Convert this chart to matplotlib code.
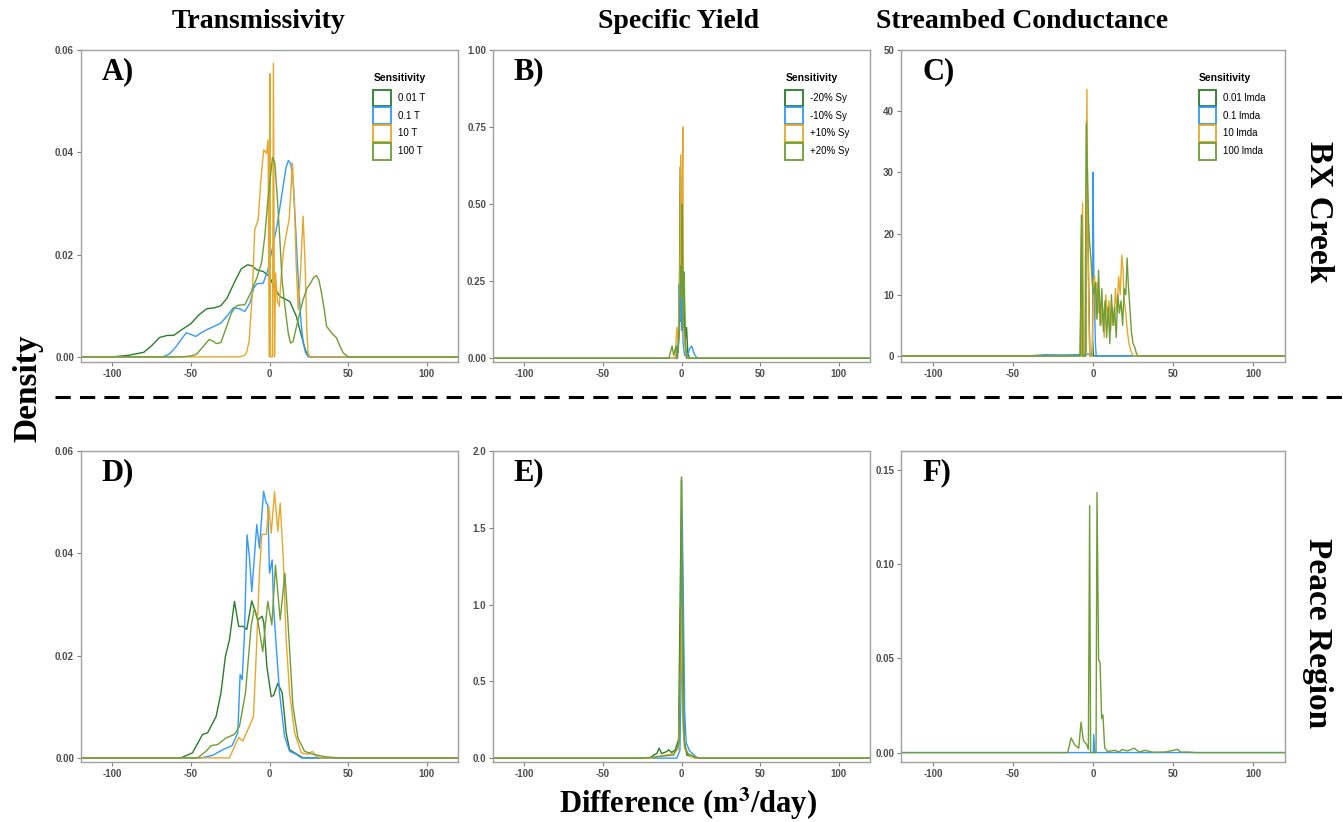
import matplotlib
matplotlib.use("Agg")
import matplotlib.pyplot as plt
from matplotlib.patches import Patch
from matplotlib.lines import Line2D

# colours of the four sensitivity runs
colors = ['#2a7d2a', '#3399ff', '#e6a82a', '#6e9e35']

col_titles = ['Transmissivity', 'Specific Yield', 'Streambed Conductance']
row_titles = ['BX Creek', 'Peace Region']
letters = ['A)', 'B)', 'C)', 'D)', 'E)', 'F)']
legend_labels = [
    ['0.01 T', '0.1 T', '10 T', '100 T'],
    ['-20% Sy', '-10% Sy', '+10% Sy', '+20% Sy'],
    ['0.01 lmda', '0.1 lmda', '10 lmda', '100 lmda'],
]

# ---- A) BX Creek, transmissivity ----
A1_x = [-120, -100, -90, -80, -75, -70, -65, -61, -55, -50, -45, -40, -35, -31, -27, -22, -18, -14, -11, -8, -4, 0, 3, 6.6, 10, 13, 17, 20, 23, 25.7, 120]
A1_y = [0, 0, 0.0003, 0.0009, 0.0022, 0.0038, 0.0042, 0.0042, 0.0055, 0.0065, 0.0082, 0.0094, 0.0096, 0.0100, 0.0115, 0.0148, 0.0172, 0.018, 0.0178, 0.017, 0.0167, 0.0157, 0.0136, 0.0118, 0.0113, 0.0108, 0.0080, 0.0045, 0.0012, 0, 0]
A2_x = [-120, -68, -64, -60, -56, -53, -50, -47, -43, -40, -35, -31, -27, -23, -19, -15.7, -12.5, -10, -8, -4, -1, 2, 5, 8, 10.5, 12, 13.5, 15, 16.5, 18.3, 20, 21.5, 23, 24.6, 120]
A2_y = [0, 0, 0.0005, 0.0018, 0.0035, 0.0047, 0.0044, 0.0040, 0.0048, 0.0053, 0.0060, 0.0066, 0.0080, 0.0096, 0.0094, 0.0089, 0.0105, 0.0135, 0.0143, 0.0144, 0.0170, 0.0215, 0.0260, 0.0320, 0.0370, 0.0384, 0.0378, 0.0346, 0.0260, 0.0151, 0.0070, 0.0027, 0.0008, 0, 0]
A3_x = [-120, -19, -16, -14.6, -13, -11, -9.4, -7.2, -5.8, -4.5, -3.6, -1.9, -0.9, -0.2, 0.2, 0.6, 1.9, 2.5, 3.2, 3.8, 5, 6.2, 7.6, 9, 10.8, 12.5, 13.5, 14.6, 16, 17, 18.3, 19.7, 21.4, 22.7, 23.8, 24.6, 25.7, 120]
A3_y = [0, 0, 0.0003, 0.0008, 0.003, 0.012, 0.0249, 0.0268, 0.0333, 0.038, 0.0405, 0.0398, 0.0424, 0, 0.0554, 0, 0, 0.0574, 0, 0.0164, 0.011, 0.0099, 0.0164, 0.021, 0.0242, 0.0268, 0.032, 0.0379, 0.0288, 0.018, 0.0092, 0.0164, 0.0275, 0.0177, 0.005, 0.0005, 0, 0]
A4_x = [-120, -55, -50, -46.5, -42, -38.4, -35.5, -33.8, -31, -29.5, -27, -24.2, -22, -20, -15.7, -12, -8, -5, -3, -1, 1.9, 3.4, 5, 6.6, 8, 9.8, 12, 13.4, 15, 18, 21.4, 24, 26.1, 28, 29.9, 31.5, 33.1, 35, 36.3, 39.5, 42.7, 45, 46.9, 50.1, 120]
A4_y = [0, 0, 0.0002, 0.0005, 0.0021, 0.0034, 0.003, 0.0026, 0.0028, 0.004, 0.0062, 0.0086, 0.0097, 0.0101, 0.0102, 0.0125, 0.0155, 0.0185, 0.0236, 0.0307, 0.039, 0.0379, 0.031, 0.0229, 0.015, 0.0099, 0.0045, 0.0027, 0.003, 0.007, 0.0112, 0.0135, 0.0144, 0.0155, 0.0159, 0.015, 0.0125, 0.009, 0.006, 0.0047, 0.0037, 0.002, 0.0008, 0, 0]

# ---- B) BX Creek, specific yield ----
B1_x = [-120, -4, -2.2, -1.5, -0.8, -0.3, 0.2, 0.8, 1.5, 2.2, 3.2, 4.0, 5, 120]
B1_y = [0, 0, 0.02, 0.08, 0.62, 0.25, 0.54, 0.12, 0.28, 0.05, 0.10, 0.02, 0, 0]
B2_x = [-120, -3, -2, -1.5, -1, -0.5, 0, 0.5, 1, 2, 3, 4, 5, 6.5, 8, 10, 120]
B2_y = [0, 0, 0.05, 0.24, 0.12, 0.2, 0.09, 0.2, 0.05, 0.01, 0.005, 0.01, 0.03, 0.04, 0.015, 0, 0]
B3_x = [-120, -4, -3, -2, -1, -0.5, 0, 0.5, 0.9, 1.2, 2, 3, 120]
B3_y = [0, 0, 0.1, 0.05, 0.3, 0.66, 0.2, 0.58, 0.75, 0.1, 0.05, 0, 0]
B4_x = [-120, -8, -6, -5, -3.5, -2.5, -1.5, -0.5, 0, 0.5, 1, 1.7, 2.5, 3.5, 120]
B4_y = [0, 0, 0.04, 0.01, 0.04, 0.0, 0.1, 0.3, 0.2, 0.5, 0.1, 0.28, 0.05, 0.0, 0]

# ---- C) BX Creek, streambed conductance ----
C1_x = [-120, -8, -7.2, -6.8, -5, -4.4, -4.0, -3.2, -2, -0.6, -0.2, 0.3, 1, 120]
C1_y = [0, 0, 23, 0, 0, 0, 38.5, 20, 0, 0, 2.3, 0, 0, 0]
C2_x = [-120, -40, -30, -20, -10, -3, -1, -0.3, 0, 0.5, 1, 1.5, 2, 120]
C2_y = [0, 0, 0.2, 0.15, 0.2, 0.3, 0.3, 0.5, 30, 14, 8, 2, 0, 0]
C3_x = [-120, -7.5, -6.5, -5.8, -4.5, -3.8, -3.2, -2.6, -2, -1.2, -0.5, 0.3, 1, 1.8, 2.5, 3.3, 4, 5, 6, 7, 8, 9, 10, 11, 12, 13, 14, 15, 16, 17, 18, 18.8, 19.5, 20.5, 21.5, 22.5, 23.5, 24.5, 25.5, 120]
C3_y = [0, 0, 25, 0, 0, 43.6, 20, 8, 0, 0, 0, 12, 13, 6, 12, 7, 10, 5, 8, 3, 10, 6, 9, 4, 8, 5, 11, 7, 13, 10, 16.5, 14, 9, 7, 4, 2, 1, 0.3, 0, 0]
C4_x = [-120, -8, -7, -6.5, -5, -4.2, -3.5, -2.8, -2, -1.3, -0.5, 0.5, 1.5, 2.5, 3.5, 4.5, 5.5, 6.5, 7.5, 8.5, 9.5, 10.5, 11.5, 12.5, 13.5, 14.5, 15.5, 16.5, 17.5, 18.5, 19.5, 20.5, 21.3, 22, 23, 24, 25, 26, 27, 28, 120]
C4_y = [0, 0, 22.8, 0, 0, 38, 30, 22, 18, 16, 12, 10, 12, 6, 14, 5, 11, 4, 9, 3, 8, 2, 10, 5, 8, 3, 10, 7, 9, 5, 11, 10, 16, 12, 8, 4, 2, 1.5, 0.5, 0, 0]

# ---- D) Peace Region, transmissivity ----
D1_x = [-120, -56.4, -49, -42.6, -39.4, -34, -30.9, -28.1, -25.5, -22.3, -19.6, -16.6, -14.5, -11.3, -7.4, -4.7, -3.6, -1.7, 1.1, 2.6, 5.3, 8.1, 10.6, 12.8, 17, 21.3, 120]
D1_y = [0, 0, 0.001, 0.0046, 0.0049, 0.0081, 0.0127, 0.0198, 0.0231, 0.0306, 0.0257, 0.0257, 0.0251, 0.0307, 0.027, 0.0277, 0.0264, 0.0179, 0.012, 0.0122, 0.0146, 0.0127, 0.0049, 0.0016, 0.0008, 0, 0]
D2_x = [-120, -43.6, -36.2, -29.8, -23.8, -20.2, -18.7, -17.4, -16, -14.3, -12.8, -11.3, -9.6, -8.1, -6.4, -3.8, -2.1, -1.1, 0, 1.7, 2.6, 4.3, 6.4, 9.6, 12.8, 17, 20.2, 120]
D2_y = [0, 0, 0.0005, 0.0016, 0.0024, 0.0049, 0.0163, 0.0153, 0.0238, 0.0436, 0.0394, 0.0325, 0.0394, 0.0456, 0.041, 0.0521, 0.0498, 0.0495, 0.0361, 0.0387, 0.0296, 0.0218, 0.0127, 0.0042, 0.0013, 0.0007, 0, 0]
D3_x = [-120, -25.5, -21.3, -19.6, -17, -12.8, -10.2, -8.5, -6.4, -4.9, -2.1, -0.4, 1.1, 3.2, 5.3, 6.8, 8.7, 10.6, 12.8, 16, 20.2, 24.5, 27.2, 29.8, 33, 120]
D3_y = [0, 0, 0.0029, 0.004, 0.0033, 0.0062, 0.0081, 0.0198, 0.0361, 0.0437, 0.0437, 0.0491, 0.0439, 0.0521, 0.0443, 0.0498, 0.0394, 0.0231, 0.0127, 0.0049, 0.001, 0.0007, 0.0013, 0.0003, 0, 0]
D4_x = [-120, -45.7, -40.4, -37.2, -33, -27.7, -22.3, -19.1, -15.3, -11.7, -9.6, -7.4, -4.3, -1.1, 1.5, 3.8, 6.8, 9.8, 12.3, 14.9, 18.1, 22.3, 27.7, 36.2, 44.7, 120]
D4_y = [0, 0, 0.0013, 0.0024, 0.0026, 0.0039, 0.0046, 0.0062, 0.0127, 0.0257, 0.0293, 0.0267, 0.0208, 0.0306, 0.026, 0.0377, 0.027, 0.0361, 0.0238, 0.0101, 0.0039, 0.0013, 0.0007, 0.0002, 0, 0]

# ---- E) Peace Region, specific yield ----
E1_x = [-120, -20, -17.9, -15.7, -14.3, -12.6, -9.4, -8.3, -6.2, -4, -1.9, -0.9, 0, 0.9, 1.7, 3.4, 5.5, 9.8, 120]
E1_y = [0, 0, 0.02, 0.03, 0.065, 0.03, 0.043, 0.054, 0.037, 0.054, 0.12, 0.99, 1.81, 0.99, 0.12, 0.02, 0.014, 0, 0]
E2_x = [-120, -3, -1, -0.2, 0.5, 1.2, 2, 3, 5, 8, 10, 120]
E2_y = [0, 0, 0.05, 0.5, 1.55, 1.0, 0.3, 0.1, 0.05, 0.02, 0, 0]
E3_x = [-120, -20, -15, -10, -5, -2, -0.5, 0, 0.5, 1, 2, 5, 8, 120]
E3_y = [0, 0, 0.01, 0.02, 0.03, 0.06, 0.6, 1.0, 0.55, 0.2, 0.06, 0.02, 0, 0]
E4_x = [-120, -25, -15, -5, -1.5, -0.5, 0, 0.5, 1, 2, 4, 8, 12, 120]
E4_y = [0, 0, 0.01, 0.02, 0.1, 1.0, 1.83, 1.2, 0.3, 0.08, 0.03, 0.01, 0, 0]

# ---- F) Peace Region, streambed conductance ----
F2_x = [-120, 0.2, 0.4, 1.2, 120]
F2_y = [0, 0, 0.0095, 0, 0]
F4_x = [-120, -15.8, -13.7, -11.6, -8.9, -7.5, -6, -4, -2.9, -2.1, -1.5, 1.9, 2.5, 3.5, 4.4, 5.4, 6.2, 7.3, 9.1, 13.3, 16.4, 18.1, 21.6, 25.8, 28.9, 32.6, 37.2, 45.5, 52.8, 54.9, 59, 64.2, 120]
F4_y = [0, 0, 0.0078, 0.0043, 0.0023, 0.0161, 0.0064, 0.0043, 0.0017, 0.131, 0, 0, 0.138, 0.049, 0.048, 0.018, 0.02, 0.0026, 0.0005, 0.0012, 0.0003, 0.0016, 0.0009, 0.0023, 0.0003, 0.0012, 0.0002, 0.0003, 0.0017, 0.0002, 0.0003, 0, 0]

panels = [
    [(A1_x, A1_y), (A2_x, A2_y), (A3_x, A3_y), (A4_x, A4_y)],
    [(B1_x, B1_y), (B2_x, B2_y), (B3_x, B3_y), (B4_x, B4_y)],
    [(C1_x, C1_y), (C2_x, C2_y), (C3_x, C3_y), (C4_x, C4_y)],
    [(D1_x, D1_y), (D2_x, D2_y), (D3_x, D3_y), (D4_x, D4_y)],
    [(E1_x, E1_y), (E2_x, E2_y), (E3_x, E3_y), (E4_x, E4_y)],
    [None, (F2_x, F2_y), None, (F4_x, F4_y)],
]
yticks = [[0, 0.02, 0.04, 0.06], [0, 0.25, 0.5, 0.75, 1.0], [0, 10, 20, 30, 40, 50],
          [0, 0.02, 0.04, 0.06], [0, 0.5, 1.0, 1.5, 2.0], [0, 0.05, 0.10, 0.15]]
yfmt = ['{:.2f}', '{:.2f}', '{:.0f}', '{:.2f}', '{:.1f}', '{:.2f}']
ylims = [(-0.001, 0.06), (-0.012, 1.0), (-1, 50), (-0.0008, 0.06), (-0.025, 2.0), (-0.005, 0.16)]

plt.rcParams['mathtext.fontset'] = 'stix'
serif = 'Liberation Serif'
sans = 'Liberation Sans'

fig = plt.figure(figsize=(13.43, 8.22), dpi=100)

lefts = [81, 493, 901]
rights = [458, 870, 1285]
tops = [50, 451]
bottoms = [362, 762]
W, H = 1343, 822

for i in range(6):
    r, c = divmod(i, 3)
    ax = fig.add_axes([lefts[c] / W, 1 - bottoms[r] / H,
                       (rights[c] - lefts[c]) / W, (bottoms[r] - tops[r]) / H])
    for k, s in enumerate(panels[i]):
        if s is None:
            continue
        ax.plot(s[0], s[1], color=colors[k], lw=1.0)
    ax.set_xlim(-120, 120)
    ax.set_ylim(*ylims[i])
    ax.set_xticks([-100, -50, 0, 50, 100])
    ax.set_xticklabels(['-100', '-50', '0', '50', '100'])
    ax.set_yticks(yticks[i])
    ax.set_yticklabels([yfmt[i].format(v) for v in yticks[i]])
    for sp in ax.spines.values():
        sp.set_color('#a0a0a0')
        sp.set_linewidth(1.0)
    ax.tick_params(length=3, width=0.8, color='#808080', labelsize=7, labelcolor='#4d4d4d', pad=2)
    for lab in ax.get_xticklabels() + ax.get_yticklabels():
        lab.set_fontfamily(sans)
        lab.set_fontweight('bold')
    ax.text(0.055, 0.93, letters[i], transform=ax.transAxes, fontsize=22,
            fontweight='bold', family=serif, va='center', ha='left')
    if r == 0:
        handles = [Patch(facecolor='white', edgecolor=colors[k], lw=1.3, label=legend_labels[c][k])
                   for k in range(4)]
        leg = ax.legend(handles=handles, title='Sensitivity', loc='upper left',
                        bbox_to_anchor=(0.765, 0.94), frameon=False,
                        prop={'family': sans, 'size': 7}, handlelength=1.8,
                        handleheight=2.3, labelspacing=0.08, handletextpad=0.7,
                        borderaxespad=0)
        leg.get_title().set_fontweight('bold')
        leg.get_title().set_fontfamily(sans)
        leg.get_title().set_fontsize(7.5)
        leg._legend_box.align = 'left'
        leg._legend_box.sep = 5

# column titles
for x, t in zip([259, 679, 1022], col_titles):
    fig.text(x / W, 1 - 22 / H, t, ha='center', va='center', fontsize=20,
             fontweight='bold', family=serif)

# row titles on the right
for y, t in zip([212, 633], row_titles):
    fig.text(1318 / W, 1 - y / H, t, ha='center', va='center', rotation=270,
             fontsize=24, fontweight='bold', family=serif)

fig.text(28 / W, 1 - 388 / H, 'Density', ha='center', va='center', rotation=90,
         fontsize=24, fontweight='bold', family=serif)
fig.text(688 / W, 1 - 804 / H, r'Difference (m$^{\mathbf{3}}$/day)', ha='center', va='center',
         fontsize=22, fontweight='bold', family=serif)

fig.add_artist(Line2D([55 / W, 1], [1 - 397 / H, 1 - 397 / H], transform=fig.transFigure,
                      color='black', lw=2.2, ls=(0, (5, 3))))

fig.savefig('out.png', dpi=100)
